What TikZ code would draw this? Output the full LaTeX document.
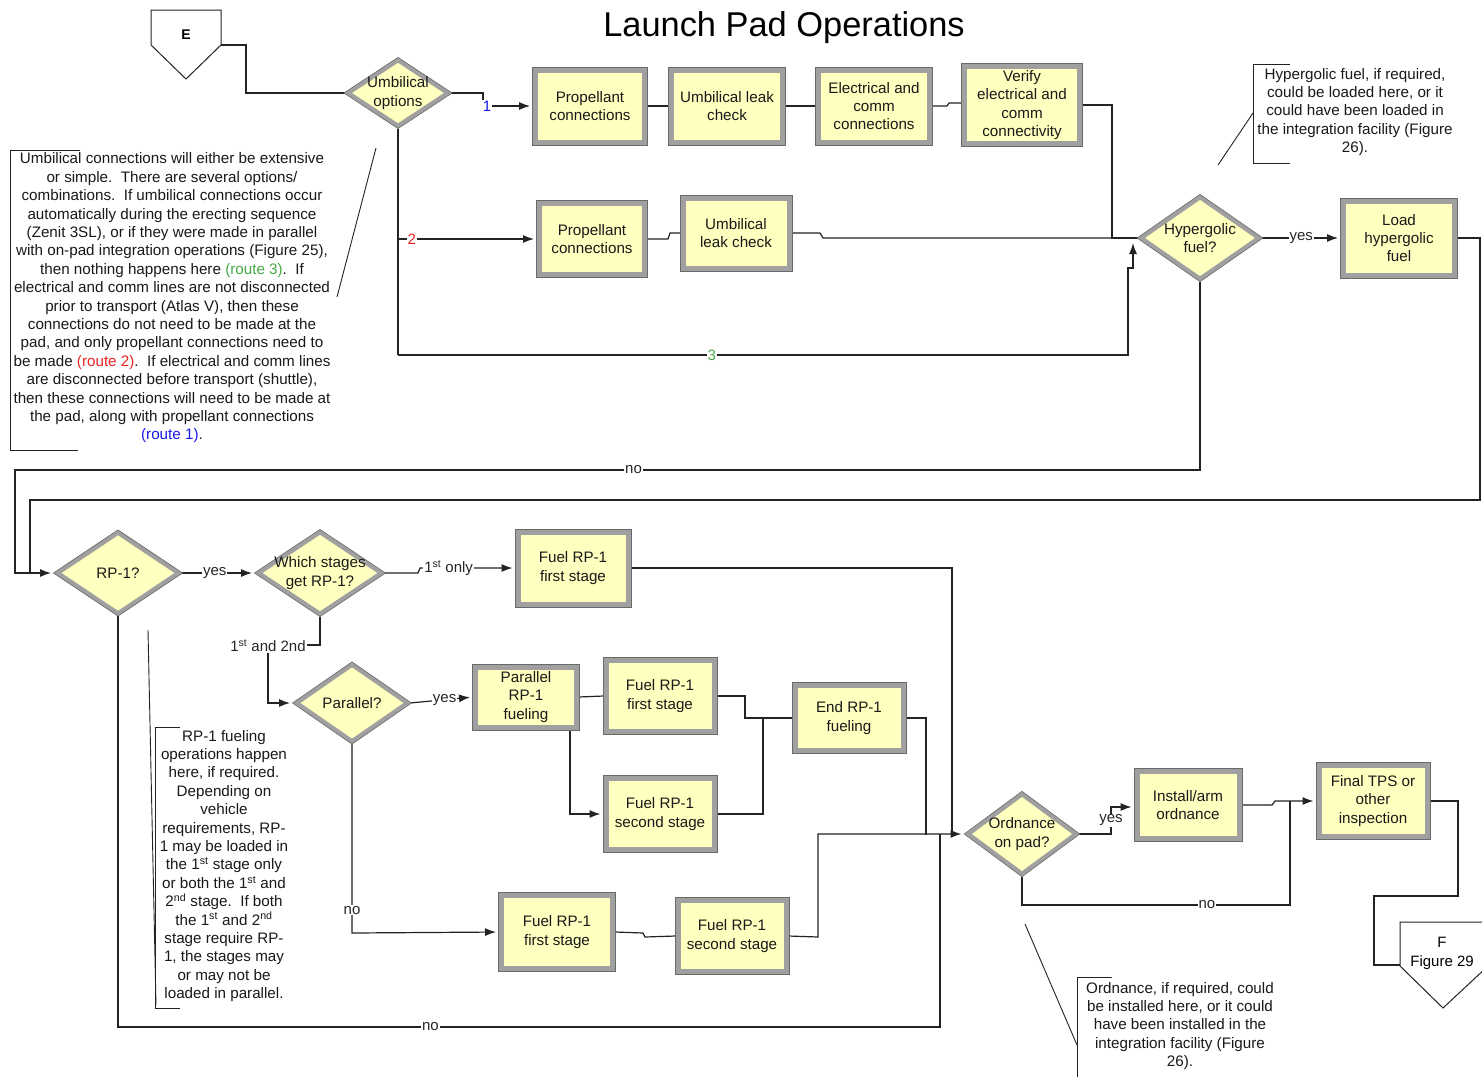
\documentclass[tikz,border=0pt]{standalone}
\usepackage{fontspec}
\setmainfont{Liberation Sans}
\usetikzlibrary{shapes.geometric,arrows.meta,backgrounds,calc}
\definecolor{boxyellow}{RGB}{255,255,192}
\definecolor{frame}{RGB}{160,160,160}
\definecolor{framedark}{RGB}{105,105,105}
\definecolor{lineC}{RGB}{35,35,35}
\definecolor{rblue}{RGB}{25,25,235}
\definecolor{rred}{RGB}{235,35,35}
\definecolor{rgreen}{RGB}{70,170,70}
\tikzset{
  proc/.style={rectangle, fill=boxyellow, draw=frame, line width=5pt,
    preaction={draw=framedark, line width=7pt}, inner sep=0pt, align=center,
    font=\fontsize{15.2}{18.2}\selectfont, text=black!90},
  diam/.style={diamond, fill=boxyellow, draw=frame, line width=4pt,
    preaction={draw=framedark, line width=5.5pt}, inner sep=0pt},
  dtext/.style={align=center, inner sep=0pt, font=\fontsize{15.2}{18.2}\selectfont, text=black!90},
  conn/.style={draw=lineC, line width=1.2pt},
  arr/.style={conn, -{Latex[length=11pt,width=8pt]}},
  elab/.style={fill=white, inner sep=1pt, font=\fontsize{15}{17}\selectfont, text=black!85},
  note/.style={align=center, inner sep=0pt, font=\fontsize{15.2}{18.4}\selectfont, text=black!90},
  brk/.style={draw=lineC, line width=0.9pt},
}
\begin{document}
\begin{tikzpicture}[x=1pt,y=-1pt]
\useasboundingbox (0,0) rectangle (1482,1076);

% title
\node[font=\fontsize{34.4}{38}\selectfont] (title) at (784,28) {Launch Pad Operations};

% off-page connector E
\draw[conn, line width=1pt] (151,10) -- (221,10) -- (221,45) -- (186,79) -- (151,45) -- cycle;
\node[font=\bfseries\fontsize{14}{16}\selectfont] (Elab) at (186,35) {E};
\coordinate (Eout) at (221,45);

% off-page connector F
\draw[conn, line width=1pt] (1400,922) -- (1488,922) -- (1488,966) -- (1443,1008) -- (1400,966) -- cycle;
\node[align=center, font=\fontsize{15}{19}\selectfont] (Flab) at (1442,953) {F\\Figure 29};
\coordinate (Fin) at (1400,965);

% diamonds
\node[diam, minimum width=101pt, minimum height=67pt] (uo) at (398,93) {};
\node[dtext] (uot) at (398,93) {Umbilical\\options};
\node[diam, minimum width=119pt, minimum height=83pt] (hyp) at (1200,238) {};
\node[dtext] (hypt) at (1200,238) {Hypergolic\\fuel?};
\node[diam, minimum width=122pt, minimum height=82pt] (rp1) at (118,573) {};
\node[dtext] (rp1t) at (118,573) {RP-1?};
\node[diam, minimum width=124pt, minimum height=83pt] (which) at (320,573) {};
\node[dtext] (whicht) at (320,573) {Which stages\\get RP-1?};
\node[diam, minimum width=112pt, minimum height=78pt] (parq) at (352,703) {};
\node[dtext] (parqt) at (352,703) {Parallel?};
\node[diam, minimum width=109pt, minimum height=81pt] (ord) at (1022,834) {};
\node[dtext] (ordt) at (1022,834) {Ordnance\\on pad?};

% process boxes
\node[proc, minimum width=109pt, minimum height=72pt] (prop1) at (590,106) {Propellant\\connections};
\node[proc, minimum width=111pt, minimum height=72pt] (leak1) at (727,106) {Umbilical leak\\check};
\node[proc, minimum width=111pt, minimum height=72pt] (elec) at (874,106) {Electrical and\\comm\\connections};
\node[proc, minimum width=115pt, minimum height=77pt] (verify) at (1022,105) {Verify\\electrical and\\comm\\connectivity};
\node[proc, minimum width=105pt, minimum height=71pt] (prop2) at (592,239) {Propellant\\connections};
\node[proc, minimum width=106pt, minimum height=70pt] (leak2) at (736,233) {Umbilical\\leak check};
\node[proc, minimum width=111pt, minimum height=74pt] (loadh) at (1399,238) {Load\\hypergolic\\fuel};
\node[proc, minimum width=110pt, minimum height=72pt] (fuel1a) at (573,568) {Fuel RP-1\\first stage};
\node[proc, minimum width=101pt, minimum height=60pt] (par) at (526,697) {Parallel\\RP-1\\fueling};
\node[proc, minimum width=108pt, minimum height=71pt] (fuel1b) at (660,696) {Fuel RP-1\\first stage};
\node[proc, minimum width=108pt, minimum height=71pt] (fuel2b) at (660,814) {Fuel RP-1\\second stage};
\node[proc, minimum width=108pt, minimum height=65pt] (endrp) at (849,718) {End RP-1\\fueling};
\node[proc, minimum width=111pt, minimum height=73pt] (fuel1c) at (557,932) {Fuel RP-1\\first stage};
\node[proc, minimum width=108pt, minimum height=71pt] (fuel2c) at (732,936) {Fuel RP-1\\second stage};
\node[proc, minimum width=102pt, minimum height=67pt] (install) at (1188,805) {Install/arm\\ordnance};
\node[proc, minimum width=108pt, minimum height=71pt] (final) at (1373,801) {Final TPS or\\other\\inspection};

% connectors
\begin{scope}[on background layer]
\fill[white] (0,0) rectangle (1482,1076);
\draw[conn] (Eout) -- (246,45) |- (uo.west);
% route 1
\draw[arr, shorten >=3pt] (uo.east) -- (483,93) -- (483,106) -- node[pos=0.08, elab, text=rblue]{1} (prop1.west);
\draw[conn] (prop1.east) -- (leak1.west);
\draw[conn] (leak1.east) -- (elec.west);
\draw[conn] (elec.east) -- (947,106) -- (949,103) -- (verify.west |- 0,103);
\draw[conn] (verify.east) -- (1112,105) -- (1112,238) -- (hyp.west);
% route 2
\draw[conn] (uo.south) -- (398,355);
\draw[arr, shorten >=3pt] (398,239) -- node[pos=0.1, elab, text=rred]{2} (prop2.west);
\draw[conn] (prop2.east) -- (668,239) -- (670,233) -- (leak2.west);
\draw[conn] (leak2.east) -- (820,233) -- (823,238) -- (hyp.west);
% route 3
\draw[arr] (398,355) -- node[pos=0.43, elab, text=rgreen]{3} (1128,355) -- (1128,268) -- (1133,268) -- (1133,243);
% hypergolic
\draw[arr, shorten >=3pt] (hyp.east) -- node[pos=0.5, elab]{yes} (loadh.west);
\draw[conn] (loadh.east) -- (1480,238) -- (1480,500) -- (30,500) -- (30,573);
\draw[arr, shorten >=4pt] (hyp.south) -- (1200,470) -- node[pos=0.478, elab]{no} (15,470) -- (15,573) -- (rp1.west);
% RP-1
\draw[arr, shorten >=4pt] (rp1.east) -- node[pos=0.45, elab]{yes} (which.west);
\draw[arr, shorten >=3pt] (which.east) -- (418,573) -- (420,568) -- node[pos=0.3, elab]{1\textsuperscript{st} only} (fuel1a.west);
\draw[conn] (fuel1a.east) -- (952,568) -- (952,835);
\draw[arr, shorten >=4pt] (which.south) -- (320,645) -- (268,645) -- (268,703) -- (parq.west);
\node[elab] (l12) at (268,646) {1\textsuperscript{st} and 2nd};
\draw[arr, shorten >=3pt] (parq.east) -- node[pos=0.55, elab]{yes} (par.west);
\draw[conn] (par.east) -- (fuel1b.west);
\draw[arr, shorten >=3pt] ($(par.south)+(44,0)$) -- (570,814) -- (fuel2b.west);
\draw[conn] (fuel1b.east) -- (745,696) -- (745,718) -- (endrp.west);
\draw[conn] (fuel2b.east) -- (763,814) -- (763,718);
\draw[conn] (endrp.east) -- (926,718) -- (926,835);
\draw[arr, shorten >=3pt] (parq.south) -- node[pos=0.88, elab]{no} (352,933) -- (fuel1c.west);
\draw[conn] (fuel1c.east) -- (643,933) -- (645,937) -- (fuel2c.west);
\draw[arr, shorten >=4pt] (fuel2c.east) -- (818,937) -- (818,834) -- (ord.west);
\draw[conn] (rp1.south) -- (118,1027) -- node[pos=0.38, elab]{no} (940,1027) -- (940,834);
% ordnance
\draw[arr, shorten >=3pt] (ord.east) -- (1111,834) -- node[pos=0.5, elab]{yes} (1111,807) -- (install.west |- 0,807);
\draw[arr, shorten >=3pt] (install.east) -- (1272,805) -- (1275,801) -- (final.west);
\draw[conn] (ord.south) -- (1022,905) -- node[pos=0.69, elab]{no} (1290,905) -- (1290,801);
\draw[conn] (final.east) -- (1458,801) -- (1458,896) -- (1374,896) -- (1374,965) -- (Fin);
\end{scope}

% notes
\draw[brk] (80,150) -- (10,150) -- (10,450) -- (78,450);
\draw[brk] (376,148) -- (337,297);
\node[note] (umbnote) at (172,298) {Umbilical connections will either be extensive\\
or simple.\ \ There are several options/\\
combinations.\ \ If umbilical connections occur\\
automatically during the erecting sequence\\
(Zenit 3SL), or if they were made in parallel\\
with on-pad integration operations (Figure 25),\\
then nothing happens here \textcolor{rgreen}{(route 3)}.\ \ If\\
electrical and comm lines are not disconnected\\
prior to transport (Atlas V), then these\\
connections do not need to be made at the\\
pad, and only propellant connections need to\\
be made \textcolor{rred}{(route 2)}.\ \ If electrical and comm lines\\
are disconnected before transport (shuttle),\\
then these connections will need to be made at\\
the pad, along with propellant connections\\
\textcolor{rblue}{(route 1)}.};

\draw[brk] (1290,64) -- (1253,64) -- (1253,163) -- (1290,163);
\draw[brk] (1218,165) -- (1253,113);
\node[note] (hypnote) at (1355,112) {Hypergolic fuel, if required,\\
could be loaded here, or it\\
could have been loaded in\\
the integration facility (Figure\\
26).};

\draw[brk] (180,727) -- (155,727) -- (155,1008) -- (180,1008);
\draw[brk] (148,630) -- (156,1005);
\node[note] (rpnote) at (224,866) {RP-1 fueling\\
operations happen\\
here, if required.\\
Depending on\\
vehicle\\
requirements, RP-\\
1 may be loaded in\\
the 1\textsuperscript{st} stage only\\
or both the 1\textsuperscript{st} and\\
2\textsuperscript{nd} stage.\ \ If both\\
the 1\textsuperscript{st} and 2\textsuperscript{nd}\\
stage require RP-\\
1, the stages may\\
or may not be\\
loaded in parallel.};

\draw[brk] (1112,977) -- (1077,977) -- (1077,1080);
\draw[brk] (1025,924) -- (1077,1045);
\node[note] (ordnote) at (1180,1026) {Ordnance, if required, could\\
be installed here, or it could\\
have been installed in the\\
integration facility (Figure\\
26).};
\end{tikzpicture}
\end{document}
